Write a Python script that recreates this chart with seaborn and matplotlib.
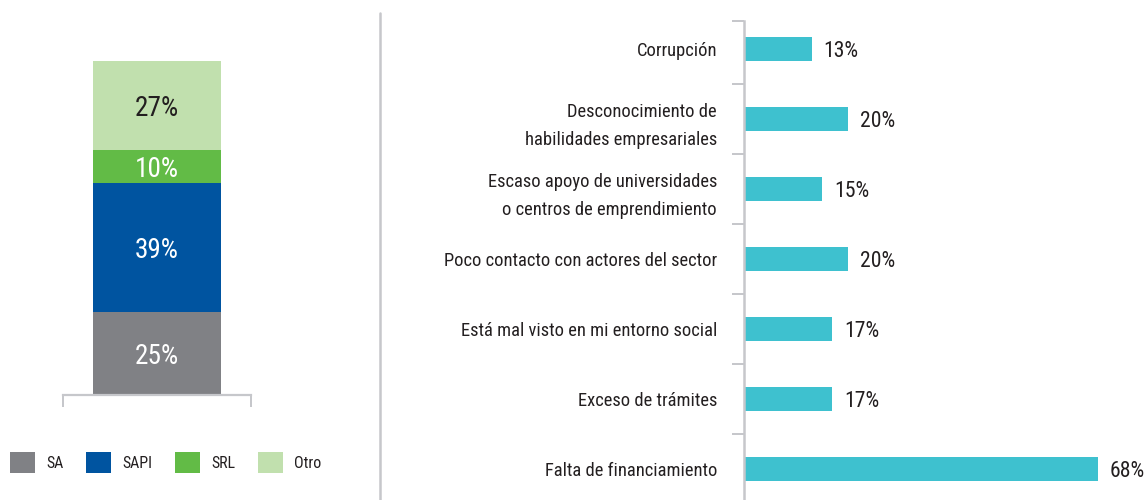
import numpy as np
import pandas as pd
import seaborn as sns
import matplotlib.pyplot as plt
from matplotlib import font_manager
from matplotlib.lines import Line2D
from matplotlib.patches import Patch

# --- DATA ---
STACK_LABELS = ["SA", "SAPI", "SRL", "Otro"]
STACK_VALUES = [25, 39, 10, 27]
STACK_COLORS = ["#808185", "#0054a0", "#62bb46", "#c1e0ae"]
STACK_TEXT_COLORS = ["white", "white", "white", "#231f20"]

BARRIERS = [
    "Corrupción",
    "Desconocimiento de\nhabilidades empresariales",
    "Escaso apoyo de universidades\no centros de emprendimiento",
    "Poco contacto con actores del sector",
    "Está mal visto en mi entorno social",
    "Exceso de trámites",
    "Falta de financiamiento",
]
BARRIER_VALUES = [13, 20, 15, 20, 17, 17, 68]
BAR_COLOR = "#3ec1cf"
GREY = "#c6c7cb"
TEXT = "#231f20"

sns.set_style("white")

# the original uses a condensed face; take the narrowest one that is installed
ttf = font_manager.fontManager.ttflist
names = {f.name for f in ttf}
FONT, STRETCH = "Roboto", "normal"
for cand in ["Liberation Sans Narrow", "Roboto Condensed", "Open Sans Condensed",
             "Noto Sans Condensed", "Arial Narrow"]:
    if cand in names:
        FONT = cand
        break
else:
    for fam in ["Roboto", "Noto Sans", "Open Sans", "DejaVu Sans"]:
        if any(f.name == fam and "condensed" in str(f.stretch) for f in ttf):
            FONT, STRETCH = fam, "condensed"
            break
plt.rcParams["font.family"] = [FONT, "DejaVu Sans"]
plt.rcParams["font.stretch"] = STRETCH

W, H = 1147, 500
fig = plt.figure(figsize=(W / 100, H / 100), dpi=100)
renderer = fig.canvas.get_renderer()


def fit_size(s, target_px, **kw):
    # font size (pt) that makes string s about target_px wide
    t = fig.text(0, 0, s, fontsize=10, **kw)
    w = t.get_window_extent(renderer).width
    t.remove()
    return 10 * target_px / w


def line_step(size, ls):
    t1 = fig.text(0, 0, "Ag", fontsize=size, linespacing=ls)
    t2 = fig.text(0, 0, "Ag\nAg", fontsize=size, linespacing=ls)
    d = t2.get_window_extent(renderer).height - t1.get_window_extent(renderer).height
    t1.remove()
    t2.remove()
    return d


CAT_SIZE = fit_size("Poco contacto con actores del sector", 271)
PCT_SIZE = fit_size("13%", 35)
STACK_SIZE = fit_size("25%", 44)
LEG_SIZE = fit_size("SAPI", 30)
LINESP = 31 / line_step(CAT_SIZE, 1.0)


def px_axes(x0, y0, x1, y1):
    # pixel box (top-left origin) -> figure axes
    return fig.add_axes([x0 / W, 1 - y1 / H, (x1 - x0) / W, (y1 - y0) / H])


# --- LEFT: stacked bar ---
ax1 = px_axes(63, 61, 251, 395)
cum = np.cumsum(STACK_VALUES)
# draw tallest first so each smaller layer sits on top
for i in reversed(range(len(STACK_VALUES))):
    sns.barplot(x=["total"], y=[cum[i]], color=STACK_COLORS[i], width=1.0,
                saturation=1, ax=ax1, linewidth=0)
for i, v in enumerate(STACK_VALUES):
    ax1.text(0, cum[i] - v / 2, f"{v}%", ha="center", va="center_baseline",
             fontsize=STACK_SIZE, color=STACK_TEXT_COLORS[i])
half = 0.729
ax1.set_xlim(-half, half)
ax1.set_ylim(0, cum[-1])
ax1.set_xticks([-half, half])
ax1.set_xticklabels(["", ""])
ax1.set_yticks([])
ax1.set_xlabel("")
ax1.set_ylabel("")
ax1.tick_params(axis="x", direction="out", length=8.6, width=1.44, color=GREY, bottom=True)
for s in ["left", "top", "right"]:
    ax1.spines[s].set_visible(False)
ax1.spines["bottom"].set_color(GREY)
ax1.spines["bottom"].set_linewidth(1.6)
ax1.set_facecolor("none")

handles = [Patch(facecolor=c, edgecolor="none") for c in STACK_COLORS]
leg_px = LEG_SIZE * 100 / 72
fig.legend(handles, STACK_LABELS, loc="center left",
           bbox_to_anchor=(10 / W, 1 - 462.5 / H), ncol=4, frameon=False,
           fontsize=LEG_SIZE, handlelength=25 / leg_px, handleheight=25 / leg_px,
           handletextpad=11 / leg_px, columnspacing=23 / leg_px, borderpad=0,
           borderaxespad=0, labelcolor=TEXT)

# separator
fig.add_artist(Line2D([380 / W, 380 / W], [0, 1 - 13 / H], color=GREY, lw=1.8))

# --- RIGHT: horizontal bars ---
ax2 = px_axes(744, 21, W, H)
df = pd.DataFrame({"barrier": BARRIERS, "value": BARRIER_VALUES})
sns.barplot(data=df, x="value", y="barrier", orient="h", color=BAR_COLOR,
            saturation=1, width=0.343, ax=ax2, linewidth=0)
for i, v in enumerate(BARRIER_VALUES):
    ax2.text(v + 2.3, i, f"{v}%", ha="left", va="center_baseline",
             fontsize=PCT_SIZE, color=TEXT)
ax2.set_xlim(0, (W - 744) / 5.2)
ax2.set_ylim(6.44, -0.4)
ax2.set_xlabel("")
ax2.set_ylabel("")
ax2.set_xticks([])
ax2.set_yticks(range(len(BARRIERS)))
ax2.set_yticklabels(BARRIERS, fontsize=CAT_SIZE, color=TEXT, linespacing=LINESP)
ax2.set_yticks([-0.4] + [i + 0.5 for i in range(len(BARRIERS) - 1)], minor=True)
ax2.tick_params(axis="y", which="major", length=0, pad=19.4)
ax2.tick_params(axis="y", which="minor", left=True, direction="out",
                length=9, width=1.44, color=GREY)
for s in ["top", "right", "bottom"]:
    ax2.spines[s].set_visible(False)
ax2.spines["left"].set_color(GREY)
ax2.spines["left"].set_linewidth(1.8)
ax2.set_facecolor("none")

fig.savefig("out.png", dpi=100, facecolor="white")
